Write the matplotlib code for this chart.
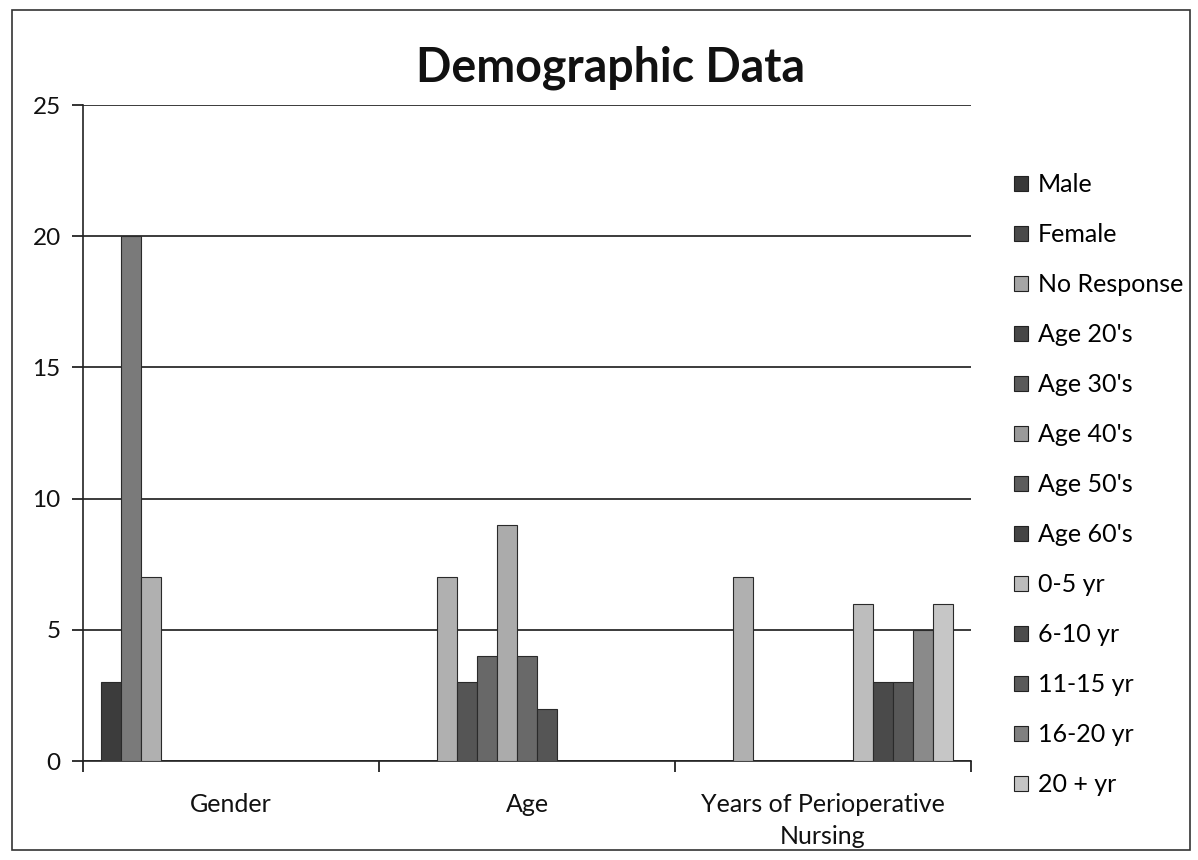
import matplotlib
matplotlib.use("Agg")
import matplotlib.pyplot as plt
import numpy as np
from matplotlib.patches import Rectangle

plt.rcParams['font.family'] = ['Lato', 'DejaVu Sans']

categories = ["Gender", "Age", "Years of Perioperative\nNursing"]
series_names = ["Male", "Female", "No Response", "Age 20's", "Age 30's", "Age 40's",
                "Age 50's", "Age 60's", "0-5 yr", "6-10 yr", "11-15 yr", "16-20 yr", "20 + yr"]
male = [3, 0, 0]
female = [20, 0, 0]
no_response = [7, 7, 7]
age20 = [0, 3, 0]
age30 = [0, 4, 0]
age40 = [0, 9, 0]
age50 = [0, 4, 0]
age60 = [0, 2, 0]
yr0_5 = [0, 0, 6]
yr6_10 = [0, 0, 3]
yr11_15 = [0, 0, 3]
yr16_20 = [0, 0, 5]
yr20p = [0, 0, 6]
series_values = [male, female, no_response, age20, age30, age40, age50, age60,
                 yr0_5, yr6_10, yr11_15, yr16_20, yr20p]
colors = ["#3c3c3c", "#7a7a7a", "#b0b0b0", "#555555", "#686868", "#ababab",
          "#696969", "#555555", "#bdbdbd", "#4a4a4a", "#585858", "#8a8a8a", "#c6c6c6"]
legend_colors = ["#383838", "#4a4a4a", "#a5a5a5", "#474747", "#5a5a5a", "#9a9a9a",
                 "#5c5c5c", "#444444", "#bcbcbc", "#4c4c4c", "#5a5a5a", "#808080", "#c4c4c4"]

fig = plt.figure(figsize=(11.98, 8.6), dpi=100)
fig.patch.set_facecolor("white")
ax = fig.add_axes([83/1198, 1-761/860, (971-83)/1198, (761-105)/860])

n = len(series_names)
bw = 20/296
x = np.arange(len(categories))
handles = []
for i, (name, vals) in enumerate(zip(series_names, series_values)):
    offs = (i - (n-1)/2) * bw
    ax.bar(x + offs, vals, width=bw, color=colors[i], edgecolor="#2a2a2a", linewidth=0.8, zorder=3)
    handles.append(Rectangle((0, 0), 1, 1, facecolor=legend_colors[i], edgecolor="#222222", linewidth=0.8))

ax.set_xlim(-0.5, 2.5)
ax.set_ylim(0, 25)
ax.set_yticks([0, 5, 10, 15, 20, 25])
ax.yaxis.grid(True, color="#1a1a1a", linewidth=1.2, zorder=0)
ax.set_axisbelow(True)
for s in ["top", "right"]:
    ax.spines[s].set_visible(False)
ax.spines["left"].set_color("#222222")
ax.spines["bottom"].set_color("#222222")
ax.spines["left"].set_linewidth(1.2)
ax.spines["bottom"].set_linewidth(1.2)
ax.tick_params(axis="y", length=8, width=1.2, labelsize=17.5, pad=8, colors="#111111")
ax.set_xticks([-0.5, 0.5, 1.5, 2.5])
ax.set_xticklabels([])
ax.tick_params(axis="x", which="major", length=8, width=1.2, colors="#111111")
ax.set_xticks(x, minor=True)
ax.set_xticklabels(categories, minor=True, fontsize=18, color="#111111", linespacing=1.5)
ax.tick_params(axis="x", which="minor", length=0, pad=23)

fig.text(611/1198, 1-68/860, "Demographic Data", ha="center", va="center",
         fontsize=33.5, fontweight="bold", color="#111111")

fig.legend(handles, series_names, loc="upper left", bbox_to_anchor=(1014/1198, 1-173/860),
           frameon=False, fontsize=18, handlelength=0.55, handleheight=0.55,
           handletextpad=0.4, labelspacing=1.08, borderaxespad=0, borderpad=0)

fig.add_artist(Rectangle((12/1198, 10/860), (1190-12)/1198, (850-10)/860, transform=fig.transFigure,
                         fill=False, edgecolor="#333333", linewidth=1.2))

fig.savefig("out.png", dpi=100)
